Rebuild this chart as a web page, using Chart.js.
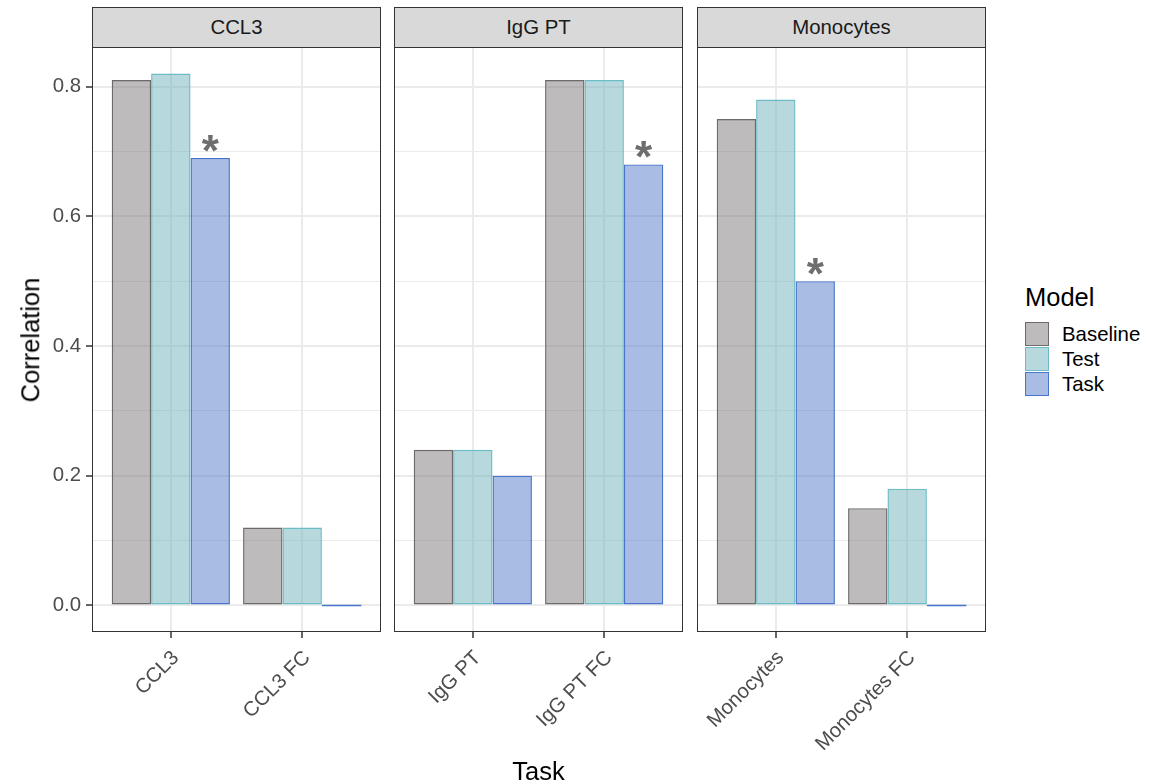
<!DOCTYPE html>
<html>
<head>
<meta charset="utf-8">
<script src="https://cdn.jsdelivr.net/npm/chart.js@4.4.0/dist/chart.umd.min.js"></script>
<style>
    body { margin: 0; background: #fff; font-family: "Liberation Sans", Arial, sans-serif; }
    #wrap { position: relative; width: 1169px; height: 782px; overflow: hidden; background: #fff; }
    #wrap canvas { position: absolute; top: 47px; }
    .strip { position: absolute; top: 7px; height: 41px; box-sizing: border-box; background: #d9d9d9;
             border: 1px solid #333; color: #1a1a1a; font-size: 20.4px; text-align: center; line-height: 39px; }
    .title { position: absolute; color: #000; font-size: 25.5px; line-height: 1; white-space: nowrap; }
    .key { position: absolute; left: 1025px; width: 24px; height: 24px; box-sizing: border-box; border: 1px solid; }
    .keyLabel { position: absolute; left: 1062px; font-size: 20.4px; line-height: 24px; color: #000; }
</style>
</head>
<body>
<div id="wrap"></div>
<script>
// Data
const panelTitles = ['CCL3', 'IgG PT', 'Monocytes'];
const taskNames = [['CCL3', 'CCL3 FC'], ['IgG PT', 'IgG PT FC'], ['Monocytes', 'Monocytes FC']];
const modelNames = ['Baseline', 'Test', 'Task'];
const baselineValues = [[0.81, 0.12], [0.24, 0.81], [0.75, 0.15]];
const testValues = [[0.82, 0.12], [0.24, 0.81], [0.78, 0.18]];
const taskValues = [[0.69, 0.0], [0.20, 0.68], [0.50, 0.0]];
const taskStars = [[true, false], [false, true], [true, false]];
const yMajorTicks = [0, 0.2, 0.4, 0.6, 0.8];
const yMinorTicks = [0.1, 0.3, 0.5, 0.7];

// Styles
const modelFills = ['rgba(123,119,121,0.5)', 'rgba(111,179,187,0.5)', 'rgba(83,121,201,0.5)'];
const modelBorders = ['#6e6a6b', '#6cbcc5', '#4a74cc'];
const panelLefts = [92, 394, 697];
const panelWidth = 289;
const fontFamily = '"Liberation Sans", Arial, sans-serif';

const wrap = document.getElementById('wrap');
const modelValues = [baselineValues, testValues, taskValues];

function isMajor(v) {
    return yMajorTicks.some(t => Math.abs(t - v) < 1e-9);
}

// zero bars, asterisks and panel border
const marksPlugin = {
    id: 'marks',
    afterDatasetsDraw(chart) {
        const ctx = chart.ctx;
        chart.data.datasets.forEach((ds, i) => {
            const meta = chart.getDatasetMeta(i);
            meta.data.forEach((bar, j) => {
                if (ds.data[j].y === 0) {
                    ctx.save();
                    ctx.strokeStyle = ds.borderColor;
                    ctx.lineWidth = 1.5;
                    ctx.beginPath();
                    ctx.moveTo(bar.x - bar.width / 2, bar.y);
                    ctx.lineTo(bar.x + bar.width / 2, bar.y);
                    ctx.stroke();
                    ctx.restore();
                }
                if (ds.stars && ds.stars[j]) {
                    ctx.save();
                    ctx.fillStyle = '#6e6e6e';
                    ctx.font = 'bold 44px ' + fontFamily;
                    ctx.textAlign = 'center';
                    ctx.textBaseline = 'alphabetic';
                    ctx.fillText('*', bar.x, bar.y + 8);
                    ctx.restore();
                }
            });
        });
    },
    afterDraw(chart) {
        const a = chart.chartArea;
        const ctx = chart.ctx;
        ctx.save();
        ctx.strokeStyle = '#333333';
        ctx.lineWidth = 1;
        ctx.strokeRect(a.left + 0.5, a.top + 0.5, a.right - a.left - 1, a.bottom - a.top - 1);
        ctx.restore();
    }
};

panelTitles.forEach((title, p) => {
    const strip = document.createElement('div');
    strip.className = 'strip';
    strip.style.left = panelLefts[p] + 'px';
    strip.style.width = panelWidth + 'px';
    strip.textContent = title;
    wrap.appendChild(strip);

    const showY = p === 0;
    const leftSpace = showY ? 92 : 4;
    const canvas = document.createElement('canvas');
    canvas.width = leftSpace + panelWidth + 4;
    canvas.height = 735;
    canvas.style.left = (panelLefts[p] - leftSpace) + 'px';
    wrap.appendChild(canvas);

    new Chart(canvas, {
        type: 'bar',
        data: {
            datasets: modelNames.map((name, m) => ({
                label: name,
                data: modelValues[m][p].map((v, k) => ({ x: k + 1, y: v })),
                backgroundColor: modelFills[m],
                borderColor: modelBorders[m],
                borderWidth: 1.4,
                borderSkipped: false,
                categoryPercentage: 0.9,
                barPercentage: 1,
                stars: m === 2 ? taskStars[p] : null
            }))
        },
        options: {
            responsive: false,
            animation: false,
            layout: { padding: { left: showY ? 0 : 4, right: 4, top: 0, bottom: 0 } },
            plugins: { legend: { display: false }, tooltip: { enabled: false } },
            scales: {
                x: {
                    type: 'linear',
                    min: 0.4,
                    max: 2.6,
                    offset: false,
                    afterBuildTicks: s => { s.ticks = taskNames[p].map((_, k) => ({ value: k + 1 })); },
                    afterFit: s => { s.height = 150; s.paddingLeft = 0; s.paddingRight = 0; },
                    border: { display: false },
                    grid: { offset: false, color: '#ebebeb', lineWidth: 2, tickColor: '#333', tickLength: 6, tickWidth: 1.5 },
                    ticks: {
                        autoSkip: false,
                        minRotation: 45,
                        maxRotation: 45,
                        padding: 8,
                        labelOffset: 5,
                        color: '#4d4d4d',
                        font: { family: fontFamily, size: 20.4 },
                        callback: v => taskNames[p][Math.round(v) - 1]
                    }
                },
                y: {
                    min: -0.041,
                    max: 0.861,
                    afterBuildTicks: s => {
                        s.ticks = yMajorTicks.concat(yMinorTicks).sort((a, b) => a - b).map(v => ({ value: v }));
                    },
                    afterFit: s => { s.width = showY ? 92 : 0; s.paddingTop = 0; s.paddingBottom = 0; },
                    border: { display: false },
                    grid: {
                        color: '#ebebeb',
                        lineWidth: ctx => (ctx.tick && isMajor(ctx.tick.value)) ? 2 : 1,
                        drawTicks: showY,
                        tickLength: 6,
                        tickWidth: 1.5,
                        tickColor: ctx => (ctx.tick && isMajor(ctx.tick.value)) ? '#333' : 'rgba(0,0,0,0)'
                    },
                    ticks: {
                        display: showY,
                        padding: 5,
                        color: '#4d4d4d',
                        font: { family: fontFamily, size: 20.4 },
                        callback: v => isMajor(v) ? v.toFixed(1) : ''
                    }
                }
            }
        },
        plugins: [marksPlugin]
    });
});

// Axis titles
const yTitle = document.createElement('div');
yTitle.className = 'title';
yTitle.textContent = 'Correlation';
yTitle.style.left = '31px';
yTitle.style.top = '340px';
yTitle.style.transform = 'translate(-50%, -50%) rotate(-90deg)';
wrap.appendChild(yTitle);

const xTitle = document.createElement('div');
xTitle.className = 'title';
xTitle.textContent = 'Task';
xTitle.style.left = '538.5px';
xTitle.style.top = '759px';
xTitle.style.transform = 'translateX(-50%)';
wrap.appendChild(xTitle);

// Legend
const legendTitle = document.createElement('div');
legendTitle.className = 'title';
legendTitle.textContent = 'Model';
legendTitle.style.left = '1025px';
legendTitle.style.top = '285px';
wrap.appendChild(legendTitle);

modelNames.forEach((name, m) => {
    const key = document.createElement('div');
    key.className = 'key';
    key.style.top = (322 + m * 25) + 'px';
    key.style.background = modelFills[m];
    key.style.borderColor = modelBorders[m];
    wrap.appendChild(key);

    const label = document.createElement('div');
    label.className = 'keyLabel';
    label.style.top = (322 + m * 25) + 'px';
    label.textContent = name;
    wrap.appendChild(label);
});
</script>
</body>
</html>
